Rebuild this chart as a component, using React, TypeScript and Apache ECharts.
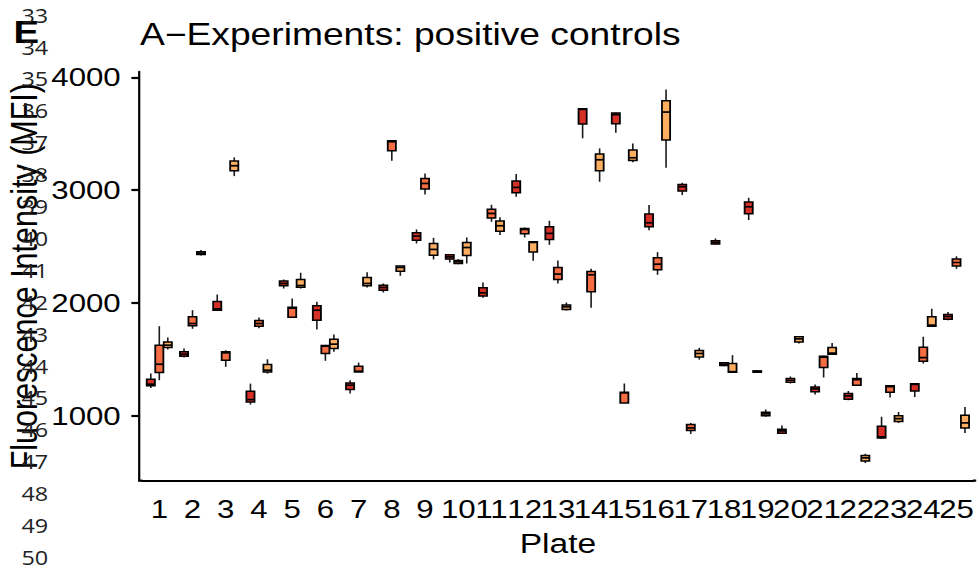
import { useEffect, useRef } from "react";
import * as echarts from "echarts";

// Horizontal stretch of the whole drawing (layout is done in unstretched units)
const SX = 1.2;
const W = 979 / SX;
const H = 572;
const px = (x: number) => x / SX;

const plates = [
  "1", "2", "3", "4", "5", "6", "7", "8", "9", "10", "11", "12", "13",
  "14", "15", "16", "17", "18", "19", "20", "21", "22", "23", "24", "25",
];

// Each entry: [min, Q1, median, Q3, max]
const redBoxes = [
  [1246, 1264, 1279, 1323, 1373],
  [1515, 1527, 1545, 1566, 1595],
  [1929, 1935, 1947, 2012, 2074],
  [1098, 1122, 1142, 1216, 1284],
  [2127, 2151, 2172, 2195, 2207],
  [1764, 1846, 1935, 1974, 2009],
  [1196, 1231, 1270, 1290, 1314],
  [2092, 2113, 2136, 2157, 2172],
  [2527, 2556, 2592, 2622, 2651],
  [2358, 2388, 2408, 2426, 2432],
  [2045, 2062, 2089, 2133, 2181],
  [2941, 2976, 3024, 3080, 3142],
  [2515, 2562, 2616, 2675, 2728],
  [3459, 3586, 3716, 3722, 3725],
  [3509, 3589, 3669, 3683, 3689],
  [2645, 2675, 2710, 2787, 2867],
  [2956, 2991, 3030, 3050, 3065],
  [2515, 2521, 2536, 2550, 2571],
  [2734, 2790, 2852, 2894, 2932],
  [838, 844, 864, 879, 912],
  [1187, 1211, 1237, 1255, 1276],
  [1137, 1146, 1175, 1196, 1219],
  [793, 802, 811, 906, 989],
  [1166, 1219, 1276, 1282, 1284],
  [1846, 1855, 1879, 1897, 1920],
];

const orangeBoxes = [
  [1314, 1382, 1456, 1625, 1793],
  [1770, 1796, 1817, 1876, 1935],
  [1432, 1492, 1557, 1566, 1580],
  [1776, 1793, 1817, 1844, 1870],
  [1867, 1873, 1953, 1962, 2039],
  [1486, 1551, 1616, 1622, 1628],
  [1388, 1388, 1394, 1438, 1471],
  [3260, 3349, 3429, 3438, 3444],
  [2962, 3009, 3059, 3104, 3148],
  [2343, 2349, 2364, 2376, 2388],
  [2719, 2752, 2793, 2831, 2870],
  [2580, 2613, 2651, 2660, 2669],
  [2172, 2207, 2255, 2314, 2376],
  [1956, 2098, 2249, 2278, 2302],
  [1113, 1113, 1202, 1208, 1285],
  [2249, 2293, 2343, 2400, 2450],
  [838, 868, 891, 921, 935],
  [1438, 1444, 1456, 1468, 1474],
  [1379, 1385, 1391, 1397, 1403],
  [1285, 1296, 1314, 1329, 1347],
  [1338, 1426, 1518, 1527, 1530],
  [1270, 1270, 1320, 1329, 1379],
  [1160, 1208, 1258, 1264, 1267],
  [1462, 1483, 1515, 1607, 1699],
  [2302, 2326, 2358, 2388, 2414],
];

const lightBoxes = [
  [1586, 1604, 1625, 1654, 1693],
  [2420, 2429, 2441, 2453, 2468],
  [3124, 3172, 3216, 3257, 3290],
  [1373, 1388, 1403, 1453, 1500],
  [2127, 2139, 2154, 2207, 2267],
  [1566, 1595, 1634, 1678, 1719],
  [2136, 2151, 2172, 2225, 2272],
  [2240, 2281, 2314, 2326, 2329],
  [2385, 2423, 2474, 2527, 2577],
  [2349, 2420, 2491, 2536, 2580],
  [2601, 2636, 2684, 2725, 2760],
  [2373, 2450, 2536, 2542, 2545],
  [1932, 1941, 1965, 1982, 2003],
  [3074, 3172, 3269, 3320, 3370],
  [3246, 3263, 3287, 3355, 3414],
  [3198, 3444, 3692, 3793, 3893],
  [1497, 1521, 1551, 1577, 1601],
  [1385, 1385, 1390, 1462, 1536],
  [989, 998, 1015, 1030, 1054],
  [1639, 1654, 1681, 1699, 1707],
  [1545, 1545, 1554, 1604, 1645],
  [581, 598, 625, 646, 663],
  [935, 947, 974, 998, 1033],
  [1787, 1793, 1802, 1876, 1947],
  [847, 891, 935, 1004, 1077],
];

const yTicks = [1000, 2000, 3000, 4000];
const lineNumbers = [33, 34, 35, 36, 37, 38, 39, 40, 41, 42, 43, 44, 45, 46, 47, 48, 49, 50];

const groups = [
  { name: "Group 1", boxes: redBoxes, color: "#d73027", offset: -0.256 },
  { name: "Group 2", boxes: orangeBoxes, color: "#f46d43", offset: 0 },
  { name: "Group 3", boxes: lightBoxes, color: "#fdae61", offset: 0.256 },
];

const BOX_FRAC = 0.245;
const FONT = '"Liberation Sans", Arial, Helvetica, sans-serif';

function makeRenderer(offset: number) {
  return (_params: any, api: any) => {
    const i = api.value(0);
    const lo = api.coord([i, api.value(1)]);
    const q1 = api.coord([i, api.value(2)]);
    const md = api.coord([i, api.value(3)]);
    const q3 = api.coord([i, api.value(4)]);
    const hi = api.coord([i, api.value(5)]);
    const band = api.size([1, 0])[0];
    const cx = lo[0] + offset * band;
    const half = (BOX_FRAC * band) / 2;
    const fill = api.visual("color");
    const whisker = { stroke: "#1a1a1a", lineWidth: 1.6 / SX };
    return {
      type: "group",
      children: [
        { type: "line", shape: { x1: cx, y1: hi[1], x2: cx, y2: q3[1] }, style: whisker },
        { type: "line", shape: { x1: cx, y1: q1[1], x2: cx, y2: lo[1] }, style: whisker },
        {
          type: "rect",
          shape: { x: cx - half, y: q3[1], width: 2 * half, height: q1[1] - q3[1] },
          style: { fill, stroke: "#000", lineWidth: 1.5 },
        },
        {
          type: "line",
          shape: { x1: cx - half, y1: md[1], x2: cx + half, y2: md[1] },
          style: { stroke: "#000", lineWidth: 1.7 },
        },
      ],
    };
  };
}

const AXIS_X = 139.4; // y-axis line
const BAND_L = 142.7;
const BAND_R = 972.9;
const AXIS_END = 976.2;
const TOP = 71.7;
const BASE = 480.7; // x-axis line

export default function App() {
  const ref = useRef<HTMLDivElement>(null);

  useEffect(() => {
    if (!ref.current) return;
    const chart = echarts.init(ref.current, null, { renderer: "svg" });

    const option: any = {
      animation: false,
      backgroundColor: "#ffffff",
      title: {
        text: "A\u2212Experiments: positive controls",
        left: px(140),
        top: 19,
        padding: 0,
        textStyle: { fontFamily: FONT, fontSize: 31, fontWeight: "normal", color: "#000" },
      },
      grid: {
        left: px(BAND_L),
        right: W - px(BAND_R),
        top: TOP,
        bottom: H - BASE,
        containLabel: false,
        outerBoundsMode: "none",
      },
      xAxis: {
        type: "category",
        data: plates,
        boundaryGap: true,
        name: "Plate",
        nameLocation: "middle",
        nameGap: 49,
        nameMoveOverlap: false,
        nameTextStyle: { fontFamily: FONT, fontSize: 28, color: "#000" },
        axisLine: { lineStyle: { color: "#000", width: 2.2 } },
        axisTick: { alignWithLabel: true, length: 7.5, lineStyle: { color: "#000", width: 2.2 / SX } },
        axisLabel: { interval: 0, margin: 15, fontFamily: FONT, fontSize: 26, color: "#000" },
        splitLine: { show: false },
      },
      yAxis: {
        type: "value",
        min: 423,
        max: 4050,
        offset: px(BAND_L - AXIS_X),
        name: "Fluorescence Intensity (MFI)",
        nameLocation: "middle",
        nameGap: 80,
        nameMoveOverlap: false,
        nameTextStyle: { fontFamily: FONT, fontSize: 30.5, color: "#000" },
        axisLine: { show: true, lineStyle: { color: "#000", width: 2.2 / SX } },
        axisTick: { show: true, length: px(8), customValues: yTicks, lineStyle: { color: "#000", width: 2.2 } },
        axisLabel: {
          customValues: yTicks,
          formatter: (v: number) => String(v),
          margin: px(AXIS_X - 120.7),
          fontFamily: FONT,
          fontSize: 26,
          color: "#000",
        },
        splitLine: { show: false },
      },
      series: groups.map((g) => ({
        type: "custom",
        name: g.name,
        renderItem: makeRenderer(g.offset),
        data: g.boxes.map((b, i) => [i, ...b]),
        encode: { x: 0, y: [1, 2, 3, 4, 5] },
        itemStyle: { color: g.color },
        z: 3,
      })),
      graphic: [
        // x-axis line continues to the ends of the expanded range
        {
          type: "line",
          shape: { x1: px(AXIS_X) - 1.1 / SX, y1: BASE, x2: px(BAND_L), y2: BASE },
          style: { stroke: "#000", lineWidth: 2.2 },
        },
        {
          type: "line",
          shape: { x1: px(BAND_R), y1: BASE, x2: px(AXIS_END), y2: BASE },
          style: { stroke: "#000", lineWidth: 2.2 },
        },
        {
          type: "text",
          x: px(13.5),
          y: 31.5,
          style: {
            text: "E",
            fontFamily: FONT,
            fontSize: 32,
            fontWeight: "bold",
            fill: "#000",
            align: "left",
            verticalAlign: "middle",
          },
          z: 10,
        },
        ...lineNumbers.map((n, i) => ({
          type: "text",
          x: px(21.5),
          y: 15 + i * 31.9,
          style: {
            text: String(n),
            fontFamily: '"Open Sans", "Noto Sans", sans-serif',
            fontSize: 19.5,
            fill: "#222",
            align: "left",
            verticalAlign: "middle",
          },
          z: 10,
        })),
      ],
    };

    chart.setOption(option);
    return () => chart.dispose();
  }, []);

  return (
    <div
      ref={ref}
      style={{
        position: "absolute",
        left: 0,
        top: 0,
        width: W,
        height: H,
        transform: `scaleX(${SX})`,
        transformOrigin: "0 0",
      }}
    />
  );
}
